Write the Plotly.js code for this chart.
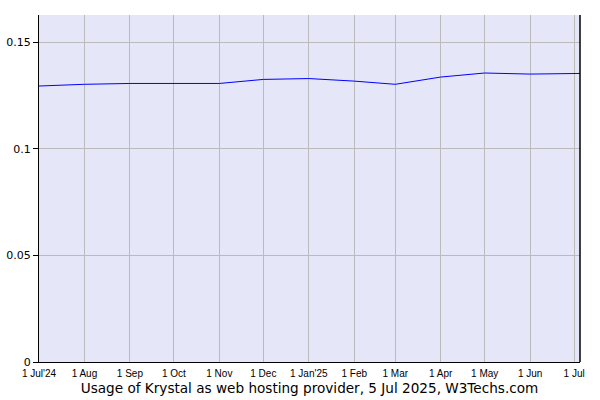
<!DOCTYPE html>
<html>
<head>
<meta charset="utf-8">
<script src="https://cdn.plot.ly/plotly-3.0.1.min.js"></script>
<style>
  html, body { margin: 0; padding: 0; background: #fff; }
  #plot-area { width: 600px; height: 400px; }
</style>
</head>
<body>
<div id="plot-area"></div>
<script>
const dates = ["2024-07-01", "2024-08-01", "2024-09-01", "2024-10-01", "2024-11-01", "2024-12-01",
  "2025-01-01", "2025-02-01", "2025-03-01", "2025-04-01", "2025-05-01", "2025-06-01",
  "2025-07-01", "2025-07-05"]
const usage = [0.1294, 0.1302, 0.1306, 0.1306, 0.1306, 0.1325,
  0.1329, 0.1317, 0.1302, 0.1336, 0.1355, 0.1350,
  0.1350, 0.1353]

const tickDates = ["2024-07-01", "2024-08-01", "2024-09-01", "2024-10-01", "2024-11-01", "2024-12-01",
  "2025-01-01", "2025-02-01", "2025-03-01", "2025-04-01", "2025-05-01", "2025-06-01", "2025-07-01"]
const tickLabels = ["1 Jul'24", "1 Aug", "1 Sep", "1 Oct", "1 Nov", "1 Dec",
  "1 Jan'25", "1 Feb", "1 Mar", "1 Apr", "1 May", "1 Jun", "1 Jul"]
const yTicks = [0, 0.05, 0.1, 0.15]
const caption = "Usage of Krystal as web hosting provider, 5 Jul 2025, W3Techs.com"

const krystal = {
  x: dates,
  y: usage,
  type: 'scatter',
  mode: 'lines',
  line: {color: '#0000ff', width: 1},
  hoverinfo: 'skip'
}

const layout = {
  width: 600,
  height: 400,
  margin: {l: 39, r: 20, t: 15, b: 38},
  paper_bgcolor: '#ffffff',
  plot_bgcolor: '#e6e6f9',
  showlegend: false,
  font: {family: 'DejaVu Sans, Verdana, sans-serif', color: '#000', size: 11},
  xaxis: {
    type: 'date',
    range: ["2024-07-01", "2025-07-05"],
    tickmode: 'array',
    tickvals: tickDates,
    ticktext: tickLabels,
    tickfont: {family: 'Liberation Sans, Arial, sans-serif', size: 10, color: '#000'},
    ticks: '',
    ticklabelstandoff: 2,
    showgrid: true,
    gridcolor: '#bbbbbb',
    gridwidth: 1,
    showline: true,
    linecolor: '#000',
    linewidth: 1,
    zeroline: false,
    title: {text: caption, font: {family: 'DejaVu Sans, Verdana, sans-serif', size: 13.6, color: '#000'}, standoff: 5}
  },
  yaxis: {
    range: [0, 0.1627],
    tickmode: 'array',
    tickvals: yTicks,
    ticktext: yTicks.map(String),
    ticks: 'outside',
    ticklen: 5,
    tickcolor: '#000',
    tickfont: {family: 'DejaVu Sans, Verdana, sans-serif', size: 11, color: '#000'},
    showgrid: true,
    gridcolor: '#bbbbbb',
    gridwidth: 1,
    showline: true,
    linecolor: '#000',
    linewidth: 1,
    zeroline: false
  },
  shapes: [{
    type: 'line', xref: 'paper', yref: 'paper',
    x0: 1, x1: 1, y0: 0, y1: 1,
    line: {color: '#000', width: 1.5}
  }]
}

Plotly.newPlot('plot-area', [krystal], layout, {staticPlot: true, displayModeBar: false})
</script>
</body>
</html>
